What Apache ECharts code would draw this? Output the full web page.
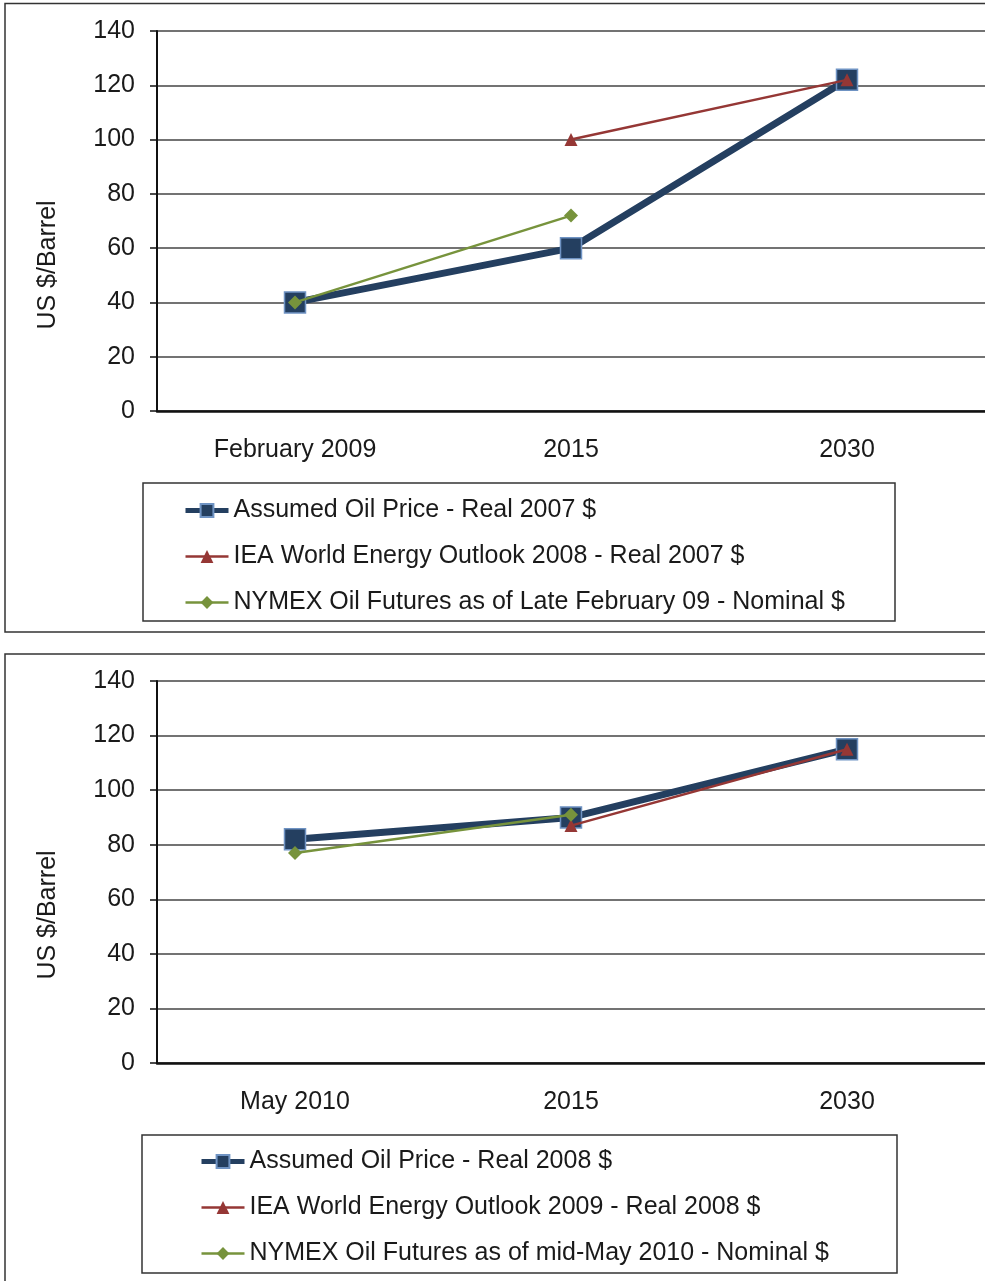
<!DOCTYPE html>
<html>
<head>
<meta charset="utf-8">
<script src="https://cdn.jsdelivr.net/npm/echarts@6/dist/echarts.min.js"></script>
<style>
  html, body { margin: 0; padding: 0; background: #fff; }
  #chart { width: 985px; height: 1281px; }
</style>
</head>
<body>
<div id="chart"></div>
<script>
// top chart data
const cats1 = ['February 2009', '2015', '2030'];
const assumed1 = [40, 60, 122];
const iea1 = [null, 100, 122];
const nymex1 = [40, 72, null];
const names1 = [
  'Assumed Oil Price - Real 2007 $',
  'IEA World Energy Outlook 2008 - Real 2007 $',
  'NYMEX Oil Futures as of Late February 09 - Nominal $'
];

// bottom chart data
const cats2 = ['May 2010', '2015', '2030'];
const assumed2 = [82, 90, 115];
const iea2 = [null, 87, 115];
const nymex2 = [77, 91, null];
const names2 = [
  'Assumed Oil Price - Real 2008 $',
  'IEA World Energy Outlook 2009 - Real 2008 $',
  'NYMEX Oil Futures as of mid-May 2010 - Nominal $'
];

const yTicks = [0, 20, 40, 60, 80, 100, 120, 140];

const font = 'Liberation Sans, Arial, sans-serif';
const txt = '#1a1a1a';

function xAxis(idx, cats) {
  return {
    type: 'category', gridIndex: idx, data: cats,
    axisLine: { lineStyle: { color: '#111', width: 2.5 } },
    axisTick: { show: false },
    axisLabel: { color: txt, fontSize: 25, fontFamily: font, margin: 27 }
  };
}
function yAxis(idx) {
  return {
    type: 'value', gridIndex: idx, min: yTicks[0], max: yTicks[yTicks.length - 1], interval: 20,
    axisLine: { show: true, lineStyle: { color: '#111', width: 2 } },
    axisTick: { show: true, length: 7, lineStyle: { color: '#111', width: 1.5 } },
    axisLabel: { color: txt, fontSize: 25, fontFamily: font, margin: 22 },
    splitLine: { lineStyle: { color: '#444', width: 1.5 } }
  };
}
function series(idx, names, a, b, c) {
  return [
    { name: names[0], type: 'line', xAxisIndex: idx, yAxisIndex: idx, data: a,
      lineStyle: { color: '#243F60', width: 7 }, symbol: 'rect', symbolSize: 21,
      itemStyle: { color: '#243F60', borderColor: '#6F93C3', borderWidth: 1.5 }, z: 2 },
    { name: names[1], type: 'line', xAxisIndex: idx, yAxisIndex: idx, data: b,
      lineStyle: { color: '#953735', width: 2.5 }, symbol: 'triangle', symbolSize: 13,
      itemStyle: { color: '#953735' }, z: 3 },
    { name: names[2], type: 'line', xAxisIndex: idx, yAxisIndex: idx, data: c,
      lineStyle: { color: '#77933C', width: 2.5 }, symbol: 'diamond', symbolSize: 14,
      itemStyle: { color: '#77933C' }, z: 4 }
  ];
}
function legend(names, left, top) {
  return {
    data: [
      { name: names[0], lineStyle: { width: 5 } },
      { name: names[1], lineStyle: { width: 2.5 } },
      { name: names[2], lineStyle: { width: 2.5 } }
    ],
    orient: 'vertical', left: left, top: top, padding: 0,
    itemWidth: 43, itemHeight: 16, itemGap: 21,
    textStyle: { color: txt, fontSize: 25, fontFamily: font, lineHeight: 24 }
  };
}
function box(x, y, w, h) {
  return { type: 'rect', shape: { x: x, y: y, width: w, height: h }, silent: true,
    style: { fill: 'none', stroke: '#333', lineWidth: 1.5 } };
}
function yName(cy) {
  return { type: 'text', x: 48, y: cy, rotation: Math.PI / 2, silent: true,
    style: { text: 'US $/Barrel', fill: txt, font: '25px ' + font, align: 'center', verticalAlign: 'middle' } };
}

const chart = echarts.init(document.getElementById('chart'));
chart.setOption({
  animation: false,
  grid: [
    { left: 157, top: 31, width: 831, height: 380 },
    { left: 157, top: 681, width: 831, height: 382 }
  ],
  xAxis: [xAxis(0, cats1), xAxis(1, cats2)],
  yAxis: [yAxis(0), yAxis(1)],
  legend: [legend(names1, 183, 498), legend(names2, 199, 1149)],
  series: series(0, names1, assumed1, iea1, nymex1).concat(series(1, names2, assumed2, iea2, nymex2)),
  graphic: [
    box(5, 3.5, 990, 628.5),
    box(5, 654, 990, 640),
    box(143, 483, 752, 138),
    box(142, 1135, 755, 138),
    yName(265),
    yName(915)
  ]
});
</script>
</body>
</html>
